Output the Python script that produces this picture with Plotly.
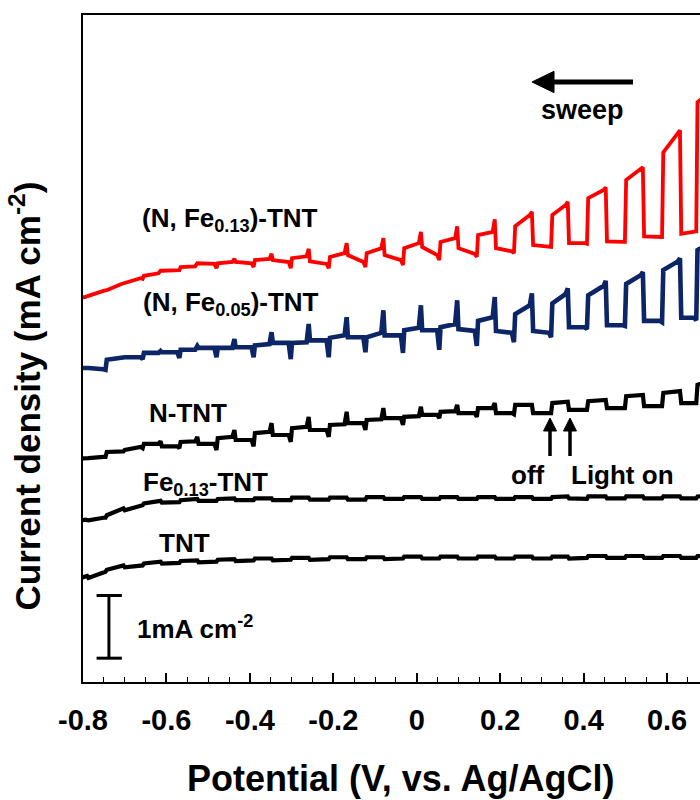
import plotly.graph_objects as go

# Chopped-light linear sweep voltammetry (sweep from positive to negative potential).
# Each light cycle k spans [potential_off[k], potential_on[k]] (light on), followed to the
# right by a dark interval. Currents in mA cm^-2 (curves offset vertically for clarity).

potential_on = [0.720, 0.631, 0.542, 0.453, 0.362, 0.276, 0.187, 0.097, 0.010,
                -0.080, -0.168, -0.259, -0.348, -0.437, -0.526, -0.614, -0.703, -0.790]
potential_off = [0.672, 0.590, 0.501, 0.410, 0.324, 0.235, 0.146, 0.056, -0.031,
                 -0.121, -0.209, -0.300, -0.389, -0.478, -0.567, -0.655, -0.744, -0.832]

# (N, Fe0.13)-TNT
nfe13_spike = [9.60, 8.80, 8.21, 7.89, 7.66, 7.50, 7.38, 7.27, 7.18, 7.08, 7.00, 6.91, 6.83, 6.75, 6.68, 6.56, 6.36, 6.16]
nfe13_light_end = [9.47, 8.74, 8.17, 7.85, 7.61, 7.45, 7.18, 7.08, 7.00, 6.92, 6.84, 6.79, 6.75, 6.70, 6.63, 6.52, 6.35, 6.14]
nfe13_light_start = [9.25, 8.45, 8.01, 7.72, 7.45, 7.27, 7.13, 7.02, 6.92, 6.84, 6.78, 6.76, 6.73, 6.68, 6.62, 6.48, 6.25, 6.12]
nfe13_dark_start = [7.24, 7.15, 7.11, 7.03, 7.00, 6.97, 6.92, 6.92, 6.94, 6.81, 6.81, 6.71, 6.73, 6.70, 6.68, 6.56, 6.36, 6.16]
nfe13_dark_end = [7.19, 7.10, 7.02, 7.00, 6.95, 6.87, 6.83, 6.81, 6.73, 6.70, 6.67, 6.70, 6.68, 6.67, 6.57, 6.44, 6.24, 6.12]
nfe13_dip = [7.19, 7.10, 7.02, 6.99, 6.94, 6.84, 6.78, 6.73, 6.65, 6.62, 6.60, 6.60, 6.62, 6.60, 6.57, 6.43, 6.24, 6.11]

# (N, Fe0.05)-TNT
nfe05_spike = [7.13, 6.76, 6.54, 6.40, 6.28, 6.20, 6.14, 6.09, 6.01, 5.93, 5.82, 5.71, 5.58, 5.47, 5.36, 5.28, 5.18, 5.01]
nfe05_light_end = [7.05, 6.71, 6.49, 6.32, 6.19, 6.01, 5.82, 5.71, 5.65, 5.57, 5.53, 5.42, 5.39, 5.33, 5.30, 5.25, 5.17, 5.01]
nfe05_light_start = [6.89, 6.57, 6.35, 6.17, 6.04, 5.87, 5.76, 5.66, 5.61, 5.50, 5.49, 5.41, 5.37, 5.33, 5.30, 5.25, 5.14, 5.01]
nfe05_dark_start = [5.84, 5.81, 5.76, 5.69, 5.66, 5.60, 5.60, 5.63, 5.61, 5.53, 5.50, 5.45, 5.41, 5.34, 5.33, 5.26, 5.18, 5.01]
nfe05_dark_end = [5.81, 5.76, 5.69, 5.66, 5.57, 5.57, 5.60, 5.61, 5.53, 5.50, 5.45, 5.41, 5.34, 5.33, 5.26, 5.18, 4.99, 5.01]
nfe05_dip = [5.77, 5.74, 5.68, 5.63, 5.50, 5.42, 5.36, 5.30, 5.25, 5.26, 5.18, 5.15, 5.18, 5.18, 5.17, 5.15, 4.98, 4.99]

# N-TNT
n_spike = [4.85, 4.64, 4.58, 4.50, 4.47, 4.42, 4.45, 4.42, 4.39, 4.37, 4.31, 4.23, 4.13, 4.02, 3.91, 3.84, 3.68, 3.56]
n_light_end = [4.82, 4.64, 4.58, 4.50, 4.47, 4.42, 4.37, 4.32, 4.24, 4.19, 4.11, 4.07, 3.99, 3.91, 3.84, 3.80, 3.68, 3.56]
n_light_start = [4.74, 4.61, 4.56, 4.48, 4.45, 4.42, 4.37, 4.31, 4.23, 4.18, 4.10, 4.05, 3.97, 3.89, 3.83, 3.80, 3.67, 3.56]
n_dark_start = [4.47, 4.45, 4.40, 4.37, 4.34, 4.29, 4.29, 4.29, 4.26, 4.21, 4.13, 4.02, 3.94, 3.86, 3.80, 3.76, 3.70, 3.57]
n_dark_end = [4.45, 4.40, 4.37, 4.34, 4.29, 4.29, 4.29, 4.26, 4.21, 4.13, 4.02, 3.94, 3.86, 3.80, 3.76, 3.75, 3.59, 3.56]
n_dip = [4.45, 4.40, 4.37, 4.34, 4.29, 4.27, 4.23, 4.21, 4.10, 4.02, 3.91, 3.83, 3.76, 3.70, 3.73, 3.73, 3.59, 3.54]

# Fe0.13-TNT
fe_light_end = [2.97, 2.96, 2.96, 2.96, 2.96, 2.95, 2.95, 2.95, 2.95, 2.95, 2.94, 2.94, 2.93, 2.93, 2.92, 2.89, 2.77, 2.59]
fe_light_start = [2.96, 2.96, 2.96, 2.96, 2.95, 2.95, 2.95, 2.95, 2.95, 2.95, 2.94, 2.94, 2.93, 2.92, 2.90, 2.85, 2.66, 2.54]
fe_dark_start = [2.93, 2.93, 2.93, 2.93, 2.93, 2.92, 2.92, 2.92, 2.92, 2.92, 2.91, 2.91, 2.90, 2.90, 2.89, 2.86, 2.74, 2.58]
fe_dark_end = [2.93, 2.93, 2.93, 2.92, 2.92, 2.92, 2.92, 2.92, 2.92, 2.91, 2.91, 2.90, 2.90, 2.89, 2.87, 2.82, 2.62, 2.53]

# TNT
tnt_light_end = [2.01, 2.01, 2.01, 2.01, 2.00, 2.00, 2.00, 2.00, 2.00, 1.99, 1.99, 1.98, 1.97, 1.96, 1.94, 1.92, 1.86, 1.69]
tnt_light_start = [2.01, 2.01, 2.01, 2.01, 2.00, 2.00, 2.00, 2.00, 2.00, 1.99, 1.99, 1.98, 1.97, 1.95, 1.93, 1.89, 1.79, 1.61]
tnt_dark_start = [1.98, 1.98, 1.98, 1.98, 1.97, 1.97, 1.97, 1.97, 1.97, 1.96, 1.96, 1.95, 1.94, 1.93, 1.91, 1.89, 1.83, 1.66]
tnt_dark_end = [1.98, 1.98, 1.98, 1.98, 1.97, 1.97, 1.97, 1.97, 1.97, 1.96, 1.96, 1.95, 1.94, 1.92, 1.90, 1.86, 1.76, 1.58]

tick_values = [-0.8, -0.6, -0.4, -0.2, 0.0, 0.2, 0.4, 0.6]
tick_labels = ["-0.8", "-0.6", "-0.4", "-0.2", "0", "0.2", "0.4", "0.6"]

FONT = "Liberation Sans, Arial, sans-serif"


def chopped_curve(spike, light_end, light_start, dark_start, dark_end, dip):
    """Polyline (ordered by potential) through the per-cycle current levels."""
    xs, ys = [], []
    for k in reversed(range(len(potential_on))):
        x_off, x_on = potential_off[k], potential_on[k]
        xs += [x_off - 0.007, x_off - 0.002, x_off + 0.001, x_on - 0.005, x_on, x_on + 0.003]
        ys += [dark_end[k], dip[k], light_start[k], light_end[k], spike[k], dark_start[k]]
    return xs, ys


curves = [
    ("(N, Fe0.13)-TNT", "#ff0000", 3.8,
     (nfe13_spike, nfe13_light_end, nfe13_light_start, nfe13_dark_start, nfe13_dark_end, nfe13_dip)),
    ("(N, Fe0.05)-TNT", "#0b2566", 4.6,
     (nfe05_spike, nfe05_light_end, nfe05_light_start, nfe05_dark_start, nfe05_dark_end, nfe05_dip)),
    ("N-TNT", "#000000", 4.2,
     (n_spike, n_light_end, n_light_start, n_dark_start, n_dark_end, n_dip)),
    ("Fe0.13-TNT", "#000000", 4.2,
     (fe_light_end, fe_light_end, fe_light_start, fe_dark_start, fe_dark_end, fe_dark_end)),
    ("TNT", "#000000", 4.2,
     (tnt_light_end, tnt_light_end, tnt_light_start, tnt_dark_start, tnt_dark_end, tnt_dark_end)),
]

fig = go.Figure()
for name, color, width, levels in curves:
    xs, ys = chopped_curve(*levels)
    fig.add_trace(go.Scatter(x=xs, y=ys, mode="lines", name=name,
                             line=dict(color=color, width=width, shape="linear"),
                             showlegend=False, hoverinfo="skip"))


def label(text, x, y, size=26):
    fig.add_annotation(text=text, x=x, y=y, xref="paper", yref="paper",
                       xanchor="center", yanchor="middle", showarrow=False,
                       font=dict(family=FONT, size=size, color="black", weight="bold"))


label("(N, Fe<sub>0.13</sub>)-TNT", 0.238, 0.694)
label("(N, Fe<sub>0.05</sub>)-TNT", 0.240, 0.568)
label("N-TNT", 0.170, 0.403)
label("Fe<sub>0.13</sub>-TNT", 0.198, 0.298)
label("TNT", 0.165, 0.208)
label("1mA cm<sup>-2</sup>", 0.182, 0.082)
label("sweep", 0.809, 0.858, 27)
label("off", 0.722, 0.310)
label("Light on", 0.875, 0.310)


def arrow(x_tip, y_tip, x_tail, y_tail, head_len, head_half, width):
    """Straight arrow in paper coordinates: shaft plus filled triangular head."""
    dx, dy = x_tail - x_tip, y_tail - y_tip
    norm = (dx ** 2 + dy ** 2) ** 0.5
    ux, uy = dx / norm, dy / norm
    bx, by = x_tip + ux * head_len, y_tip + uy * head_len
    # perpendicular in pixel space (paper x span 617 px, y span 667 px)
    px, py = -uy * 667 / 617, ux * 617 / 667
    pn = (px ** 2 + py ** 2) ** 0.5
    px, py = px / pn * head_half, py / pn * head_half
    fig.add_shape(type="line", xref="paper", yref="paper", x0=bx, y0=by, x1=x_tail, y1=y_tail,
                  line=dict(color="black", width=width))
    fig.add_shape(type="path", xref="paper", yref="paper", fillcolor="black",
                  line=dict(color="black", width=1),
                  path=f"M {x_tip},{y_tip} L {bx + px},{by + py} L {bx - px},{by - py} Z")


# sweep direction
arrow(0.7277, 0.8996, 0.8914, 0.8996, 0.0357, 0.0160, 5)
# light off / on markers
arrow(0.7569, 0.3958, 0.7569, 0.3388, 0.0195, 0.0105, 3.5)
arrow(0.7893, 0.3958, 0.7893, 0.3388, 0.0195, 0.0105, 3.5)

# 1 mA cm^-2 scale bar
bar_bottom = 0.38
bar_top = bar_bottom + 1.0
for seg in [
    dict(x0=0.042, x1=0.042, y0=bar_bottom, y1=bar_top),
    dict(x0=0.022, x1=0.063, y0=bar_bottom, y1=bar_bottom),
    dict(x0=0.022, x1=0.063, y0=bar_top, y1=bar_top),
]:
    fig.add_shape(type="line", xref="paper", yref="y", line=dict(color="black", width=3), **seg)

# axis titles
fig.add_annotation(text="Current density (mA cm<sup>-2</sup>)", x=-0.094, y=0.428,
                   xref="paper", yref="paper", textangle=-90, showarrow=False,
                   xanchor="center", yanchor="middle",
                   font=dict(family=FONT, size=35, color="black", weight="bold"))
fig.add_annotation(text="Potential (V, vs. Ag/AgCl)", x=0.514, y=-0.144,
                   xref="paper", yref="paper", showarrow=False,
                   xanchor="center", yanchor="middle",
                   font=dict(family=FONT, size=36, color="black", weight="bold"))

fig.update_xaxes(range=[-0.8, 0.679], showline=True, linecolor="black", linewidth=1.5,
                 mirror=True, showgrid=False, zeroline=False,
                 ticks="inside", ticklen=9, tickwidth=1.5, tickcolor="black",
                 tickvals=tick_values, ticktext=tick_labels, ticklabelstandoff=11,
                 tickfont=dict(family=FONT, size=29, color="black", weight="bold"),
                 minor=dict(dtick=0.05, ticks="inside", ticklen=5, tickwidth=1.2, tickcolor="black"))
fig.update_yaxes(range=[0, 10.64], showline=True, linecolor="black", linewidth=1.5,
                 mirror=False, showgrid=False, zeroline=False, showticklabels=False, ticks="")

fig.update_layout(width=700, height=800, margin=dict(l=83, r=0, t=15, b=118),
                  paper_bgcolor="white", plot_bgcolor="white")

fig.write_html("out.html")
